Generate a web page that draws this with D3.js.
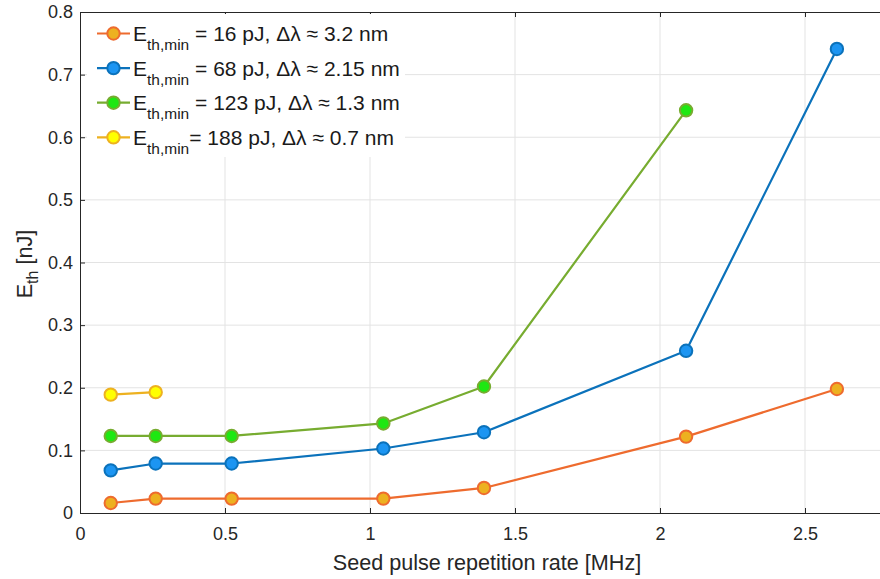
<!DOCTYPE html>
<html>
<head>
<meta charset="utf-8">
<script src="https://cdn.jsdelivr.net/npm/d3@7"></script>
<style>
  html, body { margin: 0; padding: 0; background: #fff; }
  svg { display: block; font-family: "Liberation Sans", Arial, Helvetica, sans-serif; }
</style>
</head>
<body>
<svg id="chart" width="880" height="579"></svg>
<script>
// Seed pulse repetition rate [MHz] and threshold energy [nJ] per data set
const rate4 = [0.106, 0.261, 0.523, 1.046, 1.393, 2.09, 2.61];
const rate3 = [0.106, 0.261, 0.523, 1.046, 1.393, 2.09];
const rate2 = [0.106, 0.261];

const eth16 = [0.016, 0.023, 0.023, 0.023, 0.040, 0.122, 0.198];
const eth68 = [0.068, 0.079, 0.079, 0.103, 0.129, 0.259, 0.741];
const eth123 = [0.123, 0.123, 0.123, 0.143, 0.202, 0.643];
const eth188 = [0.189, 0.193];

const seriesNames = [
  { e: "16", d: "3.2" },
  { e: "68", d: "2.15" },
  { e: "123", d: "1.3" },
  { e: "188", d: "0.7" }
];

const xTicks = [0, 0.5, 1, 1.5, 2, 2.5];
const xTickLabels = ["0", "0.5", "1", "1.5", "2", "2.5"];
const yTicks = [0, 0.1, 0.2, 0.3, 0.4, 0.5, 0.6, 0.7, 0.8];
const yTickLabels = ["0", "0.1", "0.2", "0.3", "0.4", "0.5", "0.6", "0.7", "0.8"];

const styles = [
  { line: "#EE6B2E", fill: "#EDB120" },
  { line: "#0B72BB", fill: "#1C95F2" },
  { line: "#77AC30", fill: "#1EE812" },
  { line: "#EDB120", fill: "#FFFF00" }
];

const series = [
  { x: rate4, y: eth16 },
  { x: rate4, y: eth68 },
  { x: rate3, y: eth123 },
  { x: rate2, y: eth188 }
];

const svg = d3.select("#chart");
const plotL = 80, plotT = 12, plotB = 513;
const x = d3.scaleLinear().domain([0, 2.8]).range([plotL, plotL + 2.8 * 290]);
const y = d3.scaleLinear().domain([0, 0.8]).range([plotB, plotT]);
const plotR = x(2.8);
const axisColor = "#262626";

// grid
const grid = svg.append("g");
grid.selectAll("line.gx").data(xTicks.slice(1)).join("line")
  .attr("x1", d => x(d)).attr("x2", d => x(d))
  .attr("y1", plotT).attr("y2", plotB)
  .attr("stroke", "#e3e3e3").attr("stroke-width", 1);
grid.selectAll("line.gy").data(yTicks.slice(1, -1)).join("line")
  .attr("y1", d => y(d)).attr("y2", d => y(d))
  .attr("x1", plotL).attr("x2", plotR)
  .attr("stroke", "#e3e3e3").attr("stroke-width", 1);

// data lines and markers
const line = d3.line().x(d => x(d[0])).y(d => y(d[1]));
series.forEach((s, i) => {
  const pts = s.x.map((v, j) => [v, s.y[j]]);
  svg.append("path").datum(pts)
    .attr("d", line).attr("fill", "none")
    .attr("stroke", styles[i].line).attr("stroke-width", 2.2)
    .attr("stroke-linejoin", "round");
  svg.append("g").selectAll("circle").data(pts).join("circle")
    .attr("cx", d => x(d[0])).attr("cy", d => y(d[1])).attr("r", 6.2)
    .attr("fill", styles[i].fill).attr("stroke", styles[i].line).attr("stroke-width", 2);
});

// axes (box with inward ticks)
const fmtX = (d, i) => xTickLabels[i];
const fmtY = (d, i) => yTickLabels[i];
const gx = svg.append("g").attr("transform", `translate(0,${plotB})`)
  .call(d3.axisBottom(x).tickValues(xTicks).tickFormat(fmtX).tickSizeInner(-5).tickSizeOuter(0).tickPadding(14));
const gxTop = svg.append("g").attr("transform", `translate(0,${plotT})`)
  .call(d3.axisTop(x).tickValues(xTicks).tickFormat("").tickSizeInner(-5).tickSizeOuter(0));
const gy = svg.append("g").attr("transform", `translate(${plotL},0)`)
  .call(d3.axisLeft(y).tickValues(yTicks).tickFormat(fmtY).tickSizeInner(-5).tickSizeOuter(0).tickPadding(7));
[gx, gxTop, gy].forEach(g => {
  g.select(".domain").attr("stroke", axisColor).attr("stroke-width", 1);
  g.selectAll(".tick line").attr("stroke", axisColor);
  g.selectAll(".tick text").attr("fill", axisColor).attr("font-size", 18)
    .attr("font-family", "'Liberation Sans', Arial, sans-serif");
});

// axis titles
svg.append("text")
  .attr("x", 487).attr("y", 570)
  .attr("text-anchor", "middle").attr("font-size", 21.6).attr("fill", axisColor)
  .text("Seed pulse repetition rate [MHz]");

const yt = svg.append("text")
  .attr("transform", `translate(32,264) rotate(-90)`)
  .attr("text-anchor", "middle").attr("font-size", 21.6).attr("fill", axisColor);
yt.append("tspan").text("E");
yt.append("tspan").attr("font-size", 16).attr("dy", 6).text("th");
yt.append("tspan").attr("dy", -6).text(" [nJ]");

// legend
const lg = svg.append("g").attr("transform", "translate(87,14)");
lg.append("rect").attr("width", 318).attr("height", 143).attr("fill", "#fff");
seriesNames.forEach((s, i) => {
  const ry = 19.5 + i * 34.6;
  const row = lg.append("g").attr("transform", `translate(0,${ry})`);
  row.append("line").attr("x1", 10).attr("x2", 43).attr("y1", 0).attr("y2", 0)
    .attr("stroke", styles[i].line).attr("stroke-width", 2.2);
  row.append("circle").attr("cx", 26.5).attr("cy", 0).attr("r", 6.2)
    .attr("fill", styles[i].fill).attr("stroke", styles[i].line).attr("stroke-width", 2);
  const t = row.append("text").attr("x", 46).attr("y", 7.5)
    .attr("font-size", 21).attr("fill", "#1a1a1a");
  t.append("tspan").text("E");
  t.append("tspan").attr("font-size", 15.5).attr("dy", 9).text("th,min");
  t.append("tspan").attr("dy", -9).text((i === 3 ? "" : " ") + "= " + s.e + " pJ, \u0394\u03bb \u2248 " + s.d + " nm");
});
</script>
</body>
</html>
